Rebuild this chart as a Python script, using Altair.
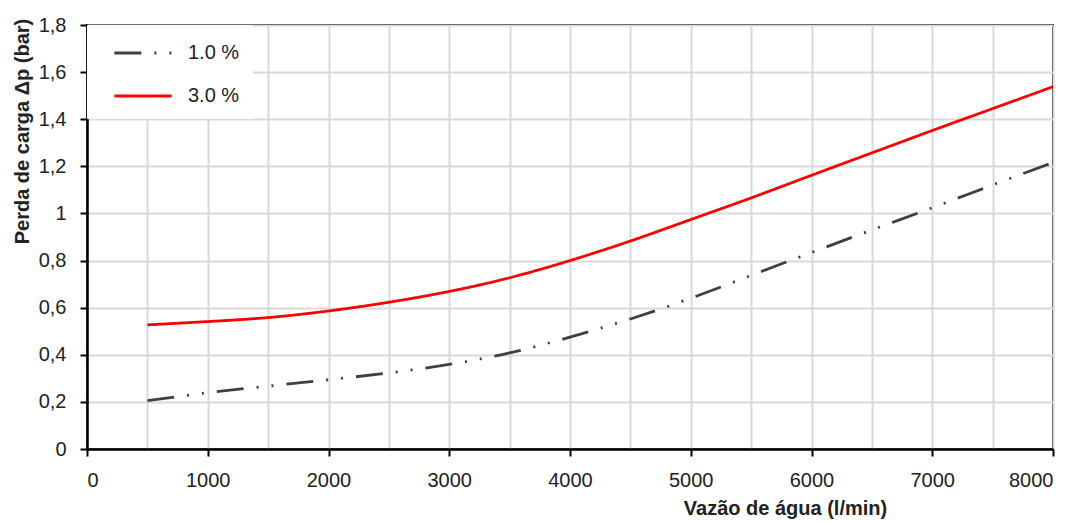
import altair as alt
import pandas as pd

flow = [500, 1000, 1500, 2000, 2500, 3000, 3500, 4000, 4500, 5000, 5500, 6000, 6500, 7000, 7500, 8000]
loss_1pct = [0.205, 0.239, 0.267, 0.294, 0.323, 0.359, 0.408, 0.475, 0.552, 0.640, 0.737, 0.834, 0.930, 1.024, 1.121, 1.216]
loss_3pct = [0.527, 0.541, 0.558, 0.586, 0.623, 0.669, 0.727, 0.800, 0.883, 0.974, 1.066, 1.162, 1.257, 1.352, 1.445, 1.538]
series = ["1.0 %", "3.0 %"]
y_ticks = [0, 0.2, 0.4, 0.6, 0.8, 1.0, 1.2, 1.4, 1.6, 1.8]
x_ticks = list(range(0, 8001, 500))

rows = []
for f, a, b in zip(flow, loss_1pct, loss_3pct):
    rows.append({"flow": f, "loss": a, "serie": series[0]})
    rows.append({"flow": f, "loss": b, "serie": series[1]})
df = pd.DataFrame(rows)

FONT = "Liberation Sans"
TXT = "#222222"

chart = alt.Chart(df).mark_line(interpolate="natural", strokeWidth=2.8, strokeCap="butt").encode(
    x=alt.X("flow:Q", scale=alt.Scale(domain=[0, 8000], nice=False),
            axis=alt.Axis(values=x_ticks, grid=True, gridColor="#d9d9d9", gridWidth=2,
                          labelExpr="datum.value % 1000 === 0 ? format(datum.value, 'd') : ''",
                          tickOpacity={"condition": {"test": "datum.value % 1000 === 0", "value": 1}, "value": 0},
                          tickSize=7, tickColor="black", tickWidth=2,
                          domainColor="black", domainWidth=2.5,
                          labelFontSize=20, labelFont=FONT, labelColor=TXT, labelPadding=14,
                          title="Vazão de água (l/min)", titleFont=FONT, titleFontSize=20,
                          titleFontWeight="bold", titleColor=TXT,
                          titleX=698, titleY=59, titleBaseline="middle", titleAlign="center")),
    y=alt.Y("loss:Q", scale=alt.Scale(domain=[0, 1.8], nice=False),
            axis=alt.Axis(values=y_ticks, grid=True, gridColor="#d9d9d9", gridWidth=2,
                          labelExpr="replace(format(datum.value, '~g'), '.', ',')",
                          tickSize=7, tickColor="black", tickWidth=2,
                          domainColor="black", domainWidth=2.5,
                          labelFontSize=20, labelFont=FONT, labelColor=TXT, labelPadding=14,
                          title="Perda de carga Δp (bar)", titleFont=FONT, titleFontSize=20,
                          titleFontWeight="bold", titleColor=TXT, titleAngle=270,
                          titleX=-65, titleY=106, titleBaseline="middle", titleAlign="center")),
    color=alt.Color("serie:N", scale=alt.Scale(domain=series, range=["#404040", "#ff0000"]),
                    legend=alt.Legend(title=None)),
    strokeDash=alt.StrokeDash("serie:N", scale=alt.Scale(domain=series, range=[[27, 13, 2, 13, 2, 13], [1, 0]]),
                              legend=alt.Legend(title=None)),
).properties(
    width=966, height=424,
    autosize=alt.AutoSizeParams(type="none"),
    padding={"left": 79, "top": 17, "right": 24, "bottom": 75},
).configure_view(
    stroke="black", strokeWidth=2
).configure_legend(
    orient="none", legendX=0, legendY=0, fillColor="white", strokeColor="white",
    padding=12, symbolOffset=28, symbolType="M-2,0H2", symbolSize=820, symbolStrokeWidth=2.8,
    labelFont=FONT, labelFontSize=20, labelColor=TXT, labelOffset=29, rowPadding=17,
    labelLimit=300
)

chart.save("out.html", embed_options={"renderer": "svg", "actions": False})
